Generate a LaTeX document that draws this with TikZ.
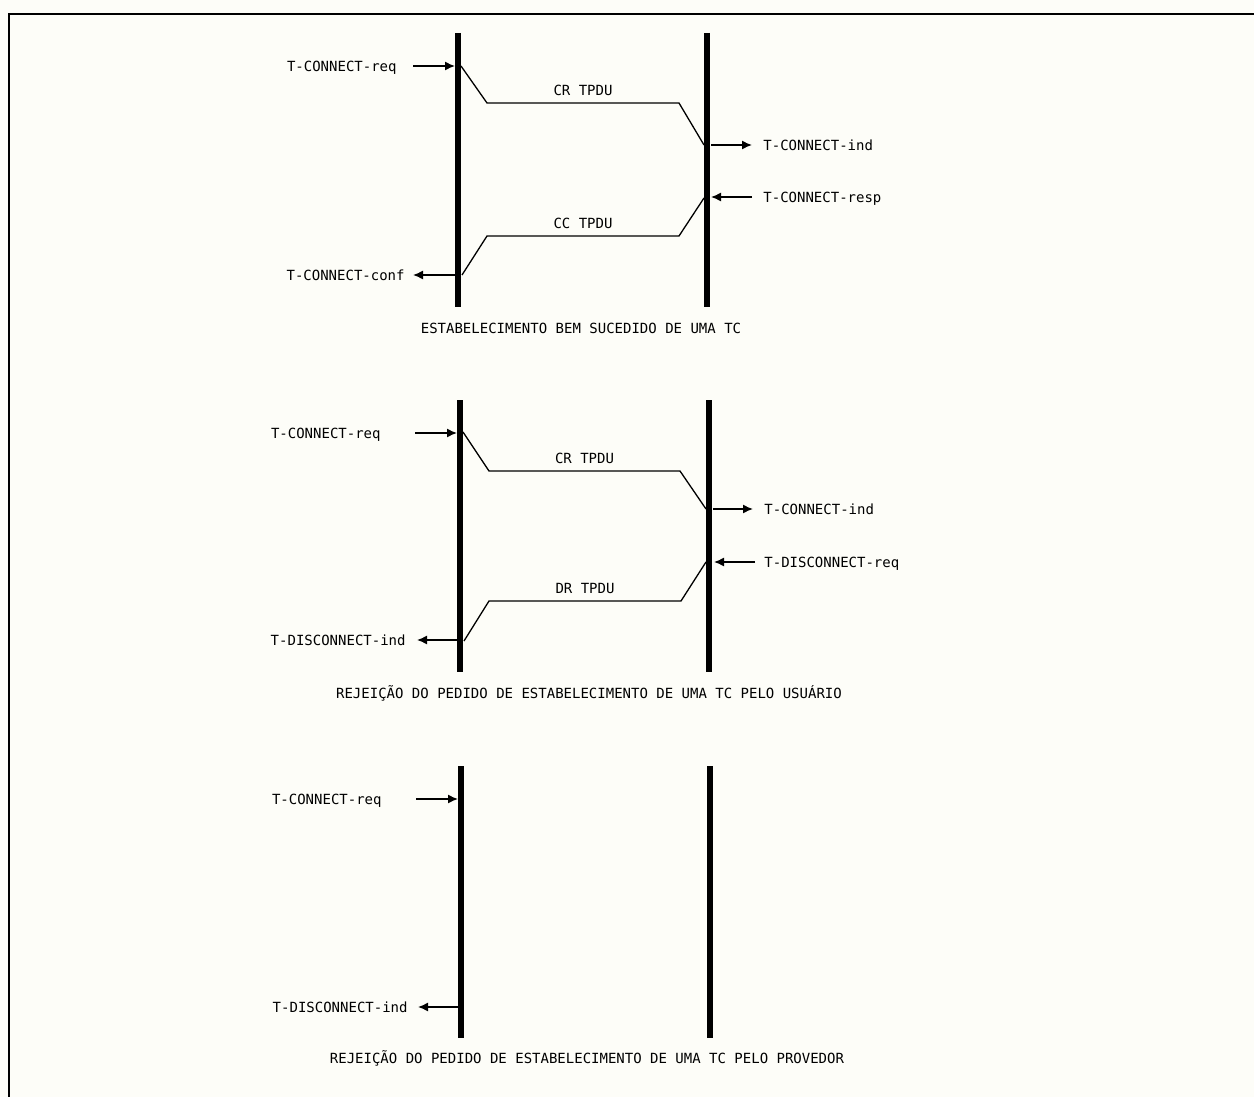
\documentclass[tikz,border=0pt]{standalone}
\usepackage{fontspec}
\newfontfamily\plotter{DejaVu Sans Mono}
\usepackage{xcolor}
\usetikzlibrary{arrows.meta, positioning}

\definecolor{paper}{RGB}{253,253,248}

\tikzset{
  lifeline/.style={line width=2.6pt},
  pdu/.style={line width=0.65pt},
  prim/.style={line width=0.85pt, -{Latex[length=5pt,width=4.6pt]}},
  lbl/.style={font=\plotter\fontsize{7}{8}\selectfont, inner sep=0pt,
              text height=5.2pt, text depth=0pt},
}

\begin{document}
\begin{tikzpicture}[x=0.5pt, y=-0.5pt]
\fill[paper] (0,0) rectangle (1254,1097);
\useasboundingbox (0,0) rectangle (1254,1097);
% Frame (open at right and bottom)
\draw[line width=1pt] (9,1097) -- (9,14) -- (1254,14);

% Lifelines of the three cases
\foreach \n/\xa/\xb/\ya/\yb in {1/458/707/33/307, 2/460/709/400/672, 3/461/710/766/1038} {
  \draw[lifeline] (\xa,\ya) -- (\xa,\yb);
  \draw[lifeline] (\xb,\ya) -- (\xb,\yb);
}

% Case 1: successful establishment
\coordinate (a1) at (455,66);
\coordinate (s1) at (461,66);
\coordinate (e1) at (704,145);
\coordinate (b1) at (711,145);
\coordinate (c1) at (711,197);
\coordinate (d1) at (704,198);
\coordinate (f1) at (462,275);
\coordinate (g1) at (455,275);
\node[lbl, left=29pt of a1] (req1) {T-CONNECT-req};
\draw[prim, shorten <=8pt] (req1) -- (a1);
\draw[pdu] (s1) -- ++(26,37) -- node[lbl, above=3.5pt] (cr1) {CR TPDU} ++(192,0) -- (e1);
\node[lbl, right=26pt of b1] (ind1) {T-CONNECT-ind};
\draw[prim, shorten >=5.5pt] (b1) -- (ind1);
\node[lbl, right=26pt of c1] (resp1) {T-CONNECT-resp};
\draw[prim, shorten <=5.5pt] (resp1) -- (c1);
\draw[pdu] (d1) -- ++(-25,38) -- node[lbl, above=3.5pt] (cc1) {CC TPDU} ++(-192,0) -- (f1);
\node[lbl, left=25pt of g1] (conf1) {T-CONNECT-conf};
\draw[prim, shorten >=4pt] (g1) -- (conf1);
\node[lbl] (cap1) at (581,328) {ESTABELECIMENTO BEM SUCEDIDO DE UMA TC};

% Case 2: rejected by the user
\coordinate (a2) at (457,433);
\coordinate (s2) at (463,432);
\coordinate (e2) at (706,509);
\coordinate (b2) at (713,509);
\coordinate (c2) at (714,562);
\coordinate (d2) at (706,562);
\coordinate (f2) at (464,641);
\coordinate (g2) at (457,640);
\node[lbl, left=38pt of a2] (req2) {T-CONNECT-req};
\draw[prim, shorten <=17pt] (req2) -- (a2);
\draw[pdu] (s2) -- ++(26,39) -- node[lbl, above=3.5pt] (cr2) {CR TPDU} ++(191,0) -- (e2);
\node[lbl, right=25.5pt of b2] (ind2) {T-CONNECT-ind};
\draw[prim, shorten >=5.5pt] (b2) -- (ind2);
\node[lbl, right=25pt of c2] (dreq2) {T-DISCONNECT-req};
\draw[prim, shorten <=4.5pt] (dreq2) -- (c2);
\draw[pdu] (d2) -- ++(-25,39) -- node[lbl, above=3.5pt] (dr2) {DR TPDU} ++(-192,0) -- (f2);
\node[lbl, left=25.5pt of g2] (dind2) {T-DISCONNECT-ind};
\draw[prim, shorten >=5.5pt] (g2) -- (dind2);
\node[lbl] (cap2) at (589,693) {REJEIÇÃO DO PEDIDO DE ESTABELECIMENTO DE UMA TC PELO USUÁRIO};

% Case 3: rejected by the provider
\coordinate (a3) at (458,799);
\coordinate (g3) at (458,1007);
\node[lbl, left=38pt of a3] (req3) {T-CONNECT-req};
\draw[prim, shorten <=17pt] (req3) -- (a3);
\node[lbl, left=25pt of g3] (dind3) {T-DISCONNECT-ind};
\draw[prim, shorten >=5pt] (g3) -- (dind3);
\node[lbl] (cap3) at (587,1058) {REJEIÇÃO DO PEDIDO DE ESTABELECIMENTO DE UMA TC PELO PROVEDOR};
\end{tikzpicture}
\end{document}
